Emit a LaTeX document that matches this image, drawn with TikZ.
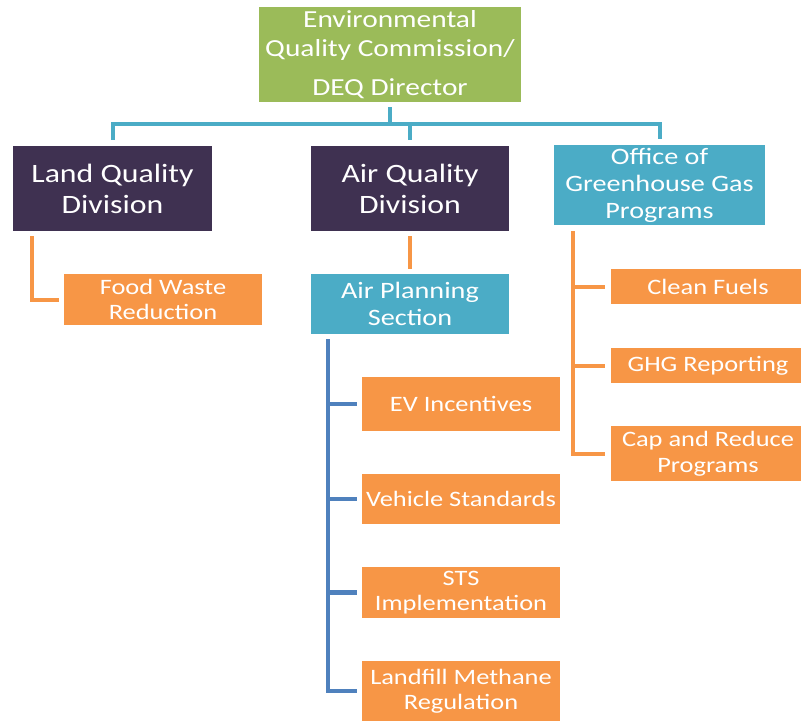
\documentclass[tikz,border=0pt]{standalone}
\usepackage{fontspec}
\setmainfont{Carlito}[FakeStretch=1.2]
\definecolor{cgreen}{HTML}{9BBB59}
\definecolor{cpurple}{HTML}{3F3151}
\definecolor{cteal}{HTML}{4BACC6}
\definecolor{corange}{HTML}{F79646}
\definecolor{cblue}{HTML}{4F81BD}
\tikzset{
  box/.style={draw=none, text=white, align=center, inner sep=0pt},
  tealline/.style={draw=cteal, line width=4pt},
  orangeline/.style={draw=corange, line width=4pt},
  blueline/.style={draw=cblue, line width=4.5pt},
  leaf/.style={box, fill=corange, minimum width=198pt, font=\fontsize{22}{25}\selectfont},
}
\begin{document}
\begin{tikzpicture}[x=1pt,y=-1pt]
\useasboundingbox (0,0) rectangle (801,721);
% top
\node[box, fill=cgreen, minimum width=262pt, minimum height=95pt,
  font=\fontsize{24.5}{29}\selectfont] (top) at (390,54.5)
  {Environmental\\Quality Commission/\\[10pt]DEQ Director};
% divisions
\node[box, fill=cpurple, minimum width=199pt, minimum height=85pt,
  font=\fontsize{26.5}{31}\selectfont] (land) at (112.5,188.5) {Land Quality\\Division};
\node[box, fill=cpurple, minimum width=198pt, minimum height=85pt,
  font=\fontsize{26.5}{31}\selectfont] (air) at (410,188.5) {Air Quality\\Division};
\node[box, fill=cteal, minimum width=211pt, minimum height=80pt,
  font=\fontsize{23.5}{27}\selectfont] (office) at (659.5,185) {Office of\\Greenhouse Gas\\Programs};
% second level
\node[leaf, minimum width=198pt, minimum height=51pt] (food) at (163,299.5) {Food Waste\\Reduction};
\node[box, fill=cteal, minimum width=198pt, minimum height=60pt,
  font=\fontsize{23.5}{27}\selectfont] (plan) at (410,304) {Air Planning\\Section};
% office children
\node[leaf, minimum width=194pt, minimum height=35pt] (clean) at (708,286.5) {Clean Fuels};
\node[leaf, minimum width=194pt, minimum height=35pt] (ghg) at (708,365.5) {GHG Reporting};
\node[leaf, minimum width=194pt, minimum height=55pt,
  font=\fontsize{22}{26}\selectfont] (cap) at (708,453.5) {Cap and Reduce\\Programs};
% planning children
\node[leaf, minimum height=54pt] (ev) at (461,404) {EV Incentives};
\node[leaf, minimum height=50pt] (veh) at (461,499) {Vehicle Standards};
\node[leaf, minimum height=51pt] (sts) at (461,592.5) {STS\\Implementation};
\node[leaf, minimum height=60pt] (land2) at (461,691) {Landfill Methane\\Regulation};
% helper coordinates
\coordinate (bus) at (0,124);
\coordinate (lx) at (32,0);
\coordinate (px) at (328,0);
\coordinate (ox) at (573,0);
% top connectors
\draw[tealline] ([yshift=-5pt]top.south) -- (top.south |- bus);
\draw[tealline] ([yshift=6pt]land.north) -- (land.north |- bus) -- (office.north |- bus) -- ([yshift=6pt]office.north);
\draw[tealline] ([yshift=6pt]air.north) -- (air.north |- bus);
% land
\draw[orangeline] ([yshift=-5pt]land.south -| lx) |- ([xshift=-5pt]food.west);
% air
\draw[orangeline] ([yshift=-5pt]air.south) -- ([yshift=5pt]plan.north);
% planning
\draw[blueline] ([yshift=-5pt]plan.south -| px) |- ([xshift=-5pt]land2.west);
\draw[blueline] (px |- ev.west) -- ([xshift=-5pt]ev.west);
\draw[blueline] (px |- veh.west) -- ([xshift=-5pt]veh.west);
\draw[blueline] (px |- sts.west) -- ([xshift=-5pt]sts.west);
% office
\draw[orangeline] ([yshift=-6pt]office.south -| ox) |- ([xshift=-6pt]cap.west);
\draw[orangeline] (ox |- clean.west) -- ([xshift=-6pt]clean.west);
\draw[orangeline] (ox |- ghg.west) -- ([xshift=-6pt]ghg.west);
\end{tikzpicture}
\end{document}
